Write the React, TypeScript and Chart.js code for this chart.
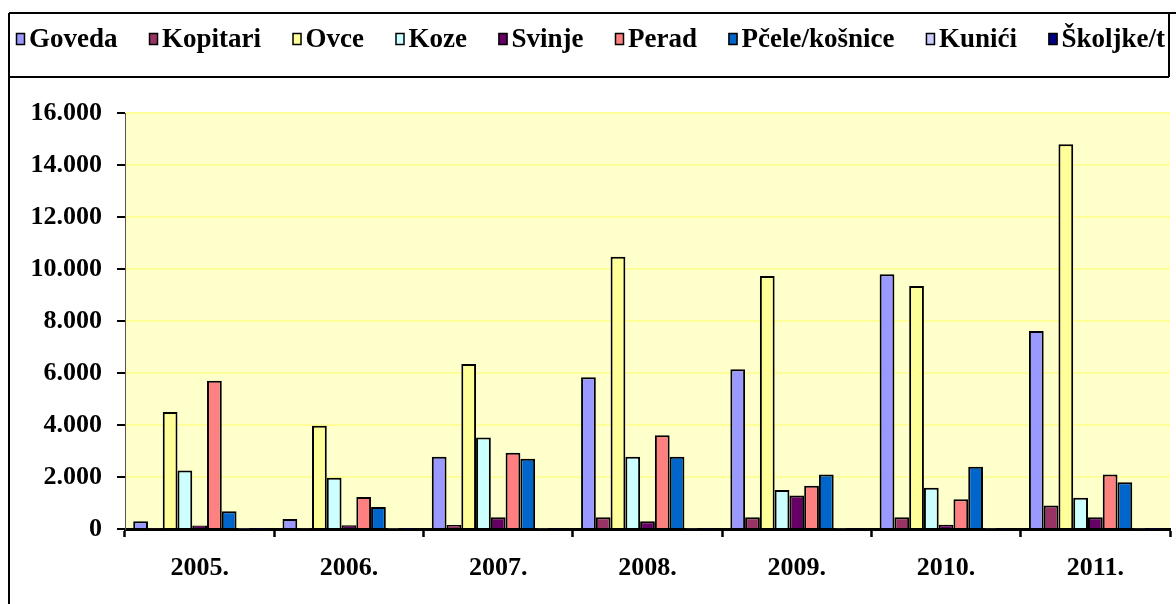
import React, { useEffect, useRef } from "react";
import { Chart, registerables } from "chart.js";

Chart.register(...registerables);

const years = ["2005.", "2006.", "2007.", "2008.", "2009.", "2010.", "2011."];
const goveda = [300, 380, 2780, 5840, 6140, 9800, 7620];
const kopitari = [10, 10, 150, 450, 450, 450, 900];
const ovce = [4500, 3970, 6350, 10470, 9730, 9350, 14800];
const koze = [2250, 1970, 3520, 2780, 1500, 1590, 1200];
const svinje = [130, 140, 450, 300, 1290, 160, 450];
const perad = [5700, 1230, 2930, 3610, 1660, 1140, 2100];
const pcele = [680, 850, 2700, 2780, 2100, 2390, 1800];
const kunici = [10, 10, 20, 20, 15, 20, 15];
const skoljke = [5, 5, 10, 10, 10, 10, 5];

const seriesNames = ["Goveda", "Kopitari", "Ovce", "Koze", "Svinje", "Perad", "Pčele/košnice", "Kunići", "Školjke/t"];
const seriesValues = [goveda, kopitari, ovce, koze, svinje, perad, pcele, kunici, skoljke];
const seriesColors = ["#9999FF", "#993366", "#FFFF99", "#CCFFFF", "#660066", "#FF8080", "#0066CC", "#CCCCFF", "#000080"];

const yMin = 0;
const yMax = 16000;
const yStep = 2000;

const FONT = "'Liberation Serif', 'Times New Roman', serif";

const fmt = (v: number) => String(v).replace(/\B(?=(\d{3})+(?!\d))/g, ".");

const framePlugin = {
  id: "framePlugin",
  beforeDraw(chart: any) {
    const { ctx, chartArea } = chart;
    ctx.save();
    ctx.fillStyle = "#FFFFCC";
    ctx.fillRect(chartArea.left, chartArea.top, chartArea.right - chartArea.left, chartArea.bottom - chartArea.top);
    ctx.restore();
  },
  afterDraw(chart: any) {
    const { ctx } = chart;
    ctx.save();
    ctx.strokeStyle = "#000";
    ctx.lineWidth = 2;
    ctx.beginPath();
    ctx.moveTo(9, 13);
    ctx.lineTo(1176, 13);
    ctx.moveTo(9, 13);
    ctx.lineTo(9, 604);
    ctx.moveTo(1169, 13);
    ctx.lineTo(1169, 77);
    ctx.moveTo(9, 77);
    ctx.lineTo(1169, 77);
    ctx.stroke();

    ctx.font = `bold 27px ${FONT}`;
    ctx.textBaseline = "middle";
    ctx.textAlign = "left";
    const boxW = 9;
    const boxH = 12;
    const gapBT = 4;
    const startX = 16;
    const endX = 1165;
    const items = chart.data.datasets.map((d: any) => ({ label: d.label, color: d.backgroundColor, w: ctx.measureText(d.label).width }));
    const totalText = items.reduce((s: number, it: any) => s + it.w, 0);
    const gap = (endX - startX - totalText - items.length * (boxW + gapBT)) / (items.length - 1);
    let x = startX;
    const cy = 39;
    items.forEach((it: any) => {
      ctx.fillStyle = it.color;
      ctx.fillRect(x, cy - boxH / 2, boxW, boxH);
      ctx.lineWidth = 1.5;
      ctx.strokeStyle = "#000";
      ctx.strokeRect(x + 0.5, cy - boxH / 2 + 0.5, boxW - 1, boxH - 1);
      ctx.fillStyle = "#000";
      ctx.fillText(it.label, x + boxW + gapBT, cy + 1);
      x += boxW + gapBT + it.w + gap;
    });
    ctx.restore();
  },
};

export default function App() {
  const ref = useRef<HTMLCanvasElement | null>(null);
  useEffect(() => {
    document.body.style.margin = "0";
    if (!ref.current) return;
    const chart = new Chart(ref.current, {
      type: "bar",
      data: {
        labels: years,
        datasets: seriesNames.map((name, i) => ({
          label: name,
          data: seriesValues[i],
          backgroundColor: seriesColors[i],
          borderColor: "#000",
          borderWidth: 2,
          categoryPercentage: 0.89,
          barPercentage: 1,
        })),
      },
      options: {
        animation: false,
        responsive: true,
        maintainAspectRatio: false,
        layout: { padding: { top: 113, left: 0, right: 6, bottom: 0 } },
        plugins: {
          legend: { display: false },
          tooltip: { enabled: false },
          title: { display: false },
        },
        scales: {
          x: {
            z: 1,
            offset: true,
            grid: {
              display: true,
              offset: true,
              drawOnChartArea: false,
              drawTicks: true,
              tickLength: 8,
              tickColor: "#000",
              tickWidth: 2.5,
            },
            border: { display: true, color: "#000", width: 3 },
            ticks: {
              color: "#000",
              font: { family: FONT, size: 26, weight: "bold" },
              padding: 16,
              maxRotation: 0,
            },
            afterFit: (scale: any) => {
              scale.height = 75;
            },
          },
          y: {
            min: yMin,
            max: yMax,
            ticks: {
              stepSize: yStep,
              color: "#000",
              font: { family: FONT, size: 26, weight: "bold" },
              padding: 15,
              callback: (v: any) => fmt(Number(v)),
            },
            grid: {
              color: "#FFFF99",
              lineWidth: 2,
              tickColor: "#000",
              tickLength: 8,
              tickWidth: 2,
            },
            border: { display: true, color: "#555", width: 1 },
            afterFit: (scale: any) => {
              scale.width = 125;
            },
          },
        },
      },
      plugins: [framePlugin],
    });
    return () => chart.destroy();
  }, []);
  return (
    <div style={{ width: 1176, height: 604, position: "relative" }}>
      <canvas ref={ref} />
    </div>
  );
}
